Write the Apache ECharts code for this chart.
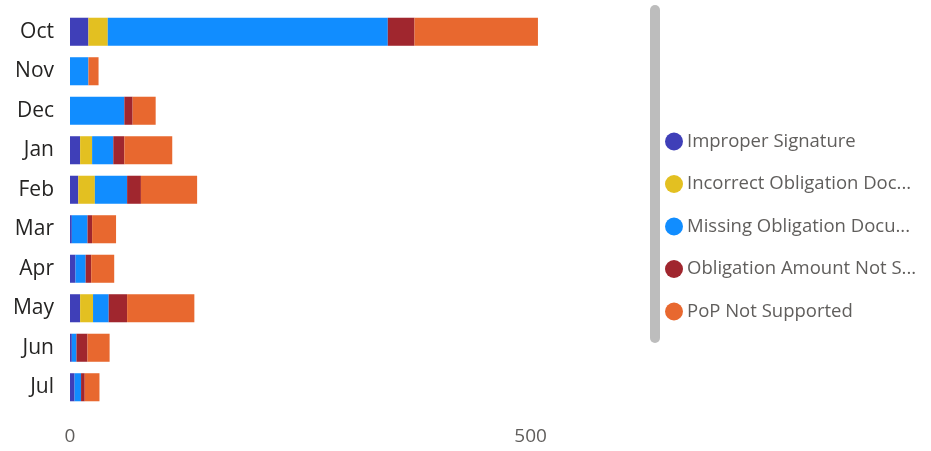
<!DOCTYPE html>
<html><head><meta charset="utf-8">
<script src="https://cdn.jsdelivr.net/npm/echarts@6/dist/echarts.min.js"></script>
<style>html,body{margin:0;padding:0;background:#fff}#c{width:931px;height:451px}</style>
</head><body><div id="c"></div>
<script>
const months = ['Oct','Nov','Dec','Jan','Feb','Mar','Apr','May','Jun','Jul'];
const seriesNames = ['Improper Signature','Incorrect Obligation Document','Missing Obligation Document','Obligation Amount Not Supported','PoP Not Supported'];
const legendLabels = ['Improper Signature','Incorrect Obligation Doc...','Missing Obligation Docu...','Obligation Amount Not S...','PoP Not Supported'];
const improper   = [20, 0, 0, 11, 9, 2, 6, 11, 2, 5];
const incorrect  = [21, 0, 0, 13, 18, 0, 0, 14, 0, 0];
const missing    = [304, 20, 59, 23, 35, 17, 11, 17, 5, 7];
const obligation = [29, 0, 9, 12, 15, 5, 6, 20, 12, 4];
const pop        = [134, 11, 25, 52, 61, 26, 25, 73, 24, 16];
const colors = ['#3F3FB8','#E3C021','#118DFF','#A0262E','#E8682F'];
const values = [improper, incorrect, missing, obligation, pop];

const chart = echarts.init(document.getElementById('c'));
chart.setOption({
  animation:false,
  grid:{left:70, top:12, width:479, bottom:44, containLabel:false},
  xAxis:{type:'value', min:0, max:520, interval:500,
    axisLine:{show:false}, axisTick:{show:false}, splitLine:{show:false},
    axisLabel:{showMaxLabel:false, color:'#605E5C', fontSize:19, fontFamily:'Open Sans', margin:20}},
  yAxis:{type:'category', inverse:true, data:months,
    axisLine:{show:false}, axisTick:{show:false},
    axisLabel:{color:'#252423', fontSize:21, fontFamily:'Open Sans', margin:16}},
  legend:{orient:'vertical', left:660, top:127, icon:'circle', itemWidth:18, itemHeight:18, itemGap:23.5,
    data:seriesNames,
    formatter:function(n){return legendLabels[seriesNames.indexOf(n)];},
    textStyle:{color:'#605E5C', fontSize:18.5, fontFamily:'Open Sans', padding:[0,0,0,-1]}},
  graphic:[{type:'rect', shape:{x:650, y:5, width:10, height:338, r:5}, style:{fill:'#BDBDBD'}}],
  series: seriesNames.map((n,i)=>({
    name:n, type:'bar', stack:'total', data:values[i], barCategoryGap:'29%',
    itemStyle:{color:colors[i]}
  }))
});
</script></body></html>
